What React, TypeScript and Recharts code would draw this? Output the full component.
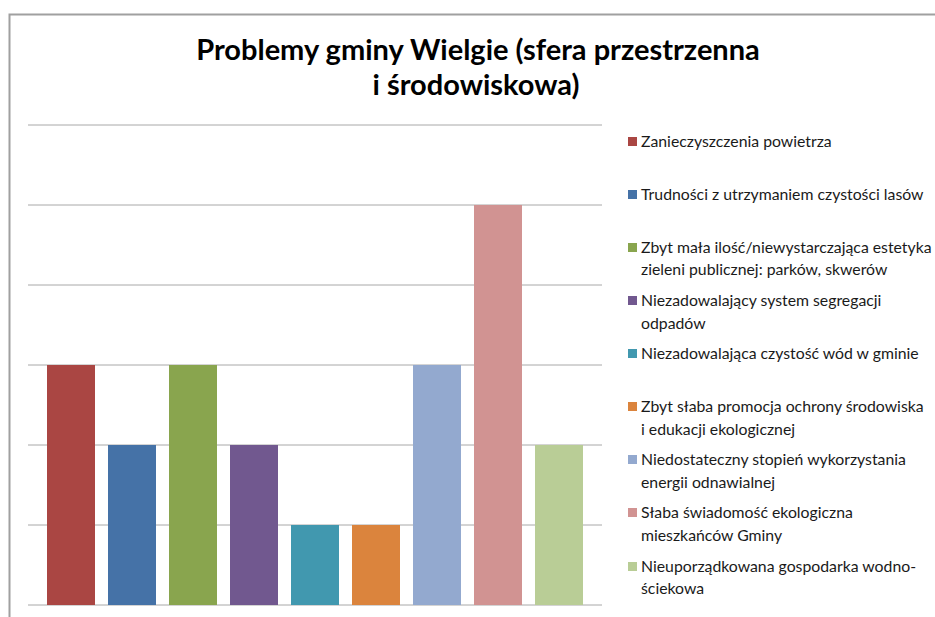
import React from 'react';
import { BarChart, Bar, XAxis, YAxis, CartesianGrid, Cell, Legend } from 'recharts';

const categories = [
  'Zanieczyszczenia powietrza',
  'Trudności z utrzymaniem czystości lasów',
  'Zbyt mała ilość/niewystarczająca estetyka\nzieleni publicznej: parków, skwerów',
  'Niezadowalający system segregacji\nodpadów',
  'Niezadowalająca czystość wód w gminie',
  'Zbyt słaba promocja ochrony środowiska\ni edukacji ekologicznej',
  'Niedostateczny stopień wykorzystania\nenergii odnawialnej',
  'Słaba świadomość ekologiczna\nmieszkańców Gminy',
  'Nieuporządkowana gospodarka wodno-\nściekowa',
];
const values = [3, 2, 3, 2, 1, 1, 3, 5, 2];
const colors = ['#AA4643', '#4572A7', '#89A54E', '#71588F', '#4198AF', '#DB843D', '#93A9CF', '#D19392', '#B9CD96'];
const yTicks = [0, 1, 2, 3, 4, 5, 6];
const titleLines = ['Problemy gminy Wielgie (sfera przestrzenna', 'i środowiskowa)'];

const data = categories.map((name, i) => ({ name, value: values[i] }));

const renderLegend = () => (
  <div style={{ position: 'relative', fontFamily: 'Lato', fontSize: 15.8, color: '#1a1a1a' }}>
    {categories.map((c, i) => (
      <div
        key={i}
        style={{ position: 'absolute', left: 0, top: i * 53.1, whiteSpace: 'pre', lineHeight: '22.5px' }}
      >
        <span
          style={{ position: 'absolute', left: -13, top: 7, width: 9, height: 9, background: colors[i] }}
        />
        {c}
      </div>
    ))}
  </div>
);

export default function App() {
  return (
    <div style={{ position: 'absolute', left: 0, top: 0, width: 935, height: 617, background: '#fff' }}>
      <BarChart
        width={935}
        height={617}
        data={data}
        margin={{ top: 125, right: 333, bottom: 12, left: 28 }}
      >
        <path d="M9.5,617 L9.5,14.5 L935,14.5" fill="none" stroke="#a0a0a0" strokeWidth={2} />
        <text
          x={478}
          y={60}
          textAnchor="middle"
          style={{ fontFamily: 'Lato', fontWeight: 700, fontSize: 29, fill: '#000' }}
        >
          {titleLines[0]}
        </text>
        <text
          x={476}
          y={95}
          textAnchor="middle"
          style={{ fontFamily: 'Lato', fontWeight: 700, fontSize: 29, fill: '#000' }}
        >
          {titleLines[1]}
        </text>
        <CartesianGrid vertical={false} stroke="#a8a8a8" />
        <XAxis dataKey="name" hide padding={{ left: 12, right: 13 }} />
        <YAxis hide domain={[0, 6]} ticks={yTicks} />
        <Legend
          content={renderLegend}
          align="left"
          verticalAlign="top"
          wrapperStyle={{ left: 641, top: 129.75, width: 0, height: 0, overflow: 'visible' }}
        />
        <Bar dataKey="value" barSize={48} isAnimationActive={false}>
          {data.map((d, i) => (
            <Cell key={i} fill={colors[i]} />
          ))}
        </Bar>
      </BarChart>
    </div>
  );
}
